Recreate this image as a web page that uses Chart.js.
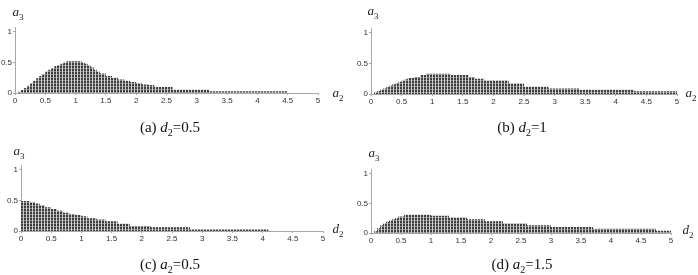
<!DOCTYPE html>
<html><head><meta charset="utf-8">
<script src="https://cdn.jsdelivr.net/npm/chart.js@4"></script>
<style>
body{margin:0;background:#fff;width:698px;height:275px;position:relative;overflow:hidden}
.p{position:absolute}
.lbl{position:absolute;font-family:"Liberation Serif","Times New Roman",serif;font-style:italic;font-size:13px;color:#222;transform:translate(-50%,-50%);white-space:nowrap}
.lbl sub{font-style:normal;font-size:9px}
.cap{position:absolute;font-family:"Liberation Serif","Times New Roman",serif;font-size:15px;color:#111;transform:translate(-50%,-50%);white-space:nowrap}
.cap sub{font-size:10px}
</style></head><body>
<div class="p" style="left:0;top:0;width:349px;height:110px"><canvas id="ca"></canvas></div>
<div class="p" style="left:349px;top:0;width:349px;height:110px"><canvas id="cb"></canvas></div>
<div class="p" style="left:0;top:137px;width:349px;height:112px"><canvas id="cc"></canvas></div>
<div class="p" style="left:349px;top:137px;width:349px;height:112px"><canvas id="cd"></canvas></div>

<span class="lbl" style="left:18px;top:13px">a<sub>3</sub></span>
<span class="lbl" style="left:338px;top:94px">a<sub>2</sub></span>
<span class="cap" style="left:170px;top:128px">(a) <i>d</i><sub>2</sub>=0.5</span>

<span class="lbl" style="left:373px;top:12px">a<sub>3</sub></span>
<span class="lbl" style="left:691px;top:94px">a<sub>2</sub></span>
<span class="cap" style="left:522px;top:128px">(b) <i>d</i><sub>2</sub>=1</span>

<span class="lbl" style="left:19px;top:152px">a<sub>3</sub></span>
<span class="lbl" style="left:338px;top:230px">d<sub>2</sub></span>
<span class="cap" style="left:170px;top:265px">(c) <i>a</i><sub>2</sub>=0.5</span>

<span class="lbl" style="left:374px;top:154px">a<sub>3</sub></span>
<span class="lbl" style="left:688px;top:231px">d<sub>2</sub></span>
<span class="cap" style="left:522px;top:265px">(d) <i>a</i><sub>2</sub>=1.5</span>

<script>
// x tick labels and y tick labels
const xTicks = [0,0.5,1,1.5,2,2.5,3,3.5,4,4.5,5];
const yTicks = [0,0.5,1];

// (a) d2=0.5 : step starts (a2) and a3 heights; last entry ends the region
const aX = [0.05,0.1,0.15,0.2,0.25,0.3,0.35,0.4,0.45,0.5,0.55,0.6,0.65,0.7,0.75,0.8,0.85,1.1,1.15,1.2,1.25,1.3,1.35,1.4,1.5,1.6,1.7,1.8,1.9,2.0,2.1,2.2,2.3,2.6,3.2,4.5];
const aY = [0.02,0.05,0.08,0.12,0.16,0.20,0.24,0.28,0.31,0.35,0.38,0.41,0.44,0.46,0.48,0.50,0.52,0.50,0.48,0.45,0.42,0.38,0.35,0.32,0.28,0.25,0.22,0.20,0.18,0.16,0.14,0.13,0.10,0.055,0.03,0];

// (b) d2=1
const bX = [0.05,0.1,0.15,0.2,0.25,0.3,0.35,0.4,0.45,0.5,0.55,0.6,0.7,0.8,0.9,1.3,1.6,1.7,1.85,2.25,2.5,2.9,3.4,4.3,5.0];
const bY = [0.03,0.05,0.07,0.09,0.12,0.14,0.16,0.18,0.20,0.22,0.24,0.26,0.28,0.31,0.33,0.31,0.28,0.25,0.22,0.17,0.12,0.09,0.07,0.045,0];

// (c) a2=0.5 (x is d2)
const cX = [0,0.15,0.23,0.31,0.4,0.5,0.6,0.7,0.8,0.9,1.0,1.1,1.25,1.4,1.6,1.8,2.15,2.8,4.1];
const cY = [0.49,0.47,0.45,0.42,0.39,0.36,0.33,0.30,0.28,0.26,0.24,0.21,0.19,0.16,0.12,0.08,0.06,0.03,0];

// (d) a2=1.5 (x is d2)
const dX = [0.05,0.1,0.15,0.2,0.25,0.3,0.35,0.4,0.45,0.55,1.0,1.3,1.6,1.9,2.2,2.6,3.0,3.7,4.75,5.0];
const dY = [0.03,0.08,0.13,0.16,0.19,0.21,0.23,0.25,0.28,0.31,0.29,0.26,0.23,0.20,0.16,0.13,0.10,0.07,0.04,0];

function makePattern(){
  const c = document.createElement('canvas'); c.width = 3; c.height = 3;
  const g = c.getContext('2d');
  g.fillStyle = '#3e3e3e'; g.fillRect(0,0,3,3);
  g.fillStyle = '#8c8c8c'; g.fillRect(0,2,3,1);
  g.fillStyle = '#d0d0d0'; g.fillRect(2,0,1,3);
  return g.createPattern(c,'repeat');
}
const pattern = makePattern();

function build(id, xs, ys, area, W, H){
  const pts = [{x: xs[0], y: 0}];
  for (let i = 0; i < xs.length; i++) pts.push({x: xs[i], y: ys[i]});
  const tickFont = {family: 'Liberation Sans, Arial, sans-serif', size: 8};
  new Chart(document.getElementById(id), {
    type: 'line',
    data: {datasets: [{data: pts, stepped: true, fill: 'origin', backgroundColor: pattern, borderWidth: 0, pointRadius: 0}]},
    options: {
      responsive: true, maintainAspectRatio: false, animation: false,
      plugins: {legend: {display: false}, tooltip: {enabled: false}},
      layout: {padding: {left: 0, top: area.top, right: W - area.right, bottom: 0}},
      scales: {
        x: {type: 'linear', min: 0, max: 5,
          afterBuildTicks: s => { s.ticks = xTicks.map(v => ({value: v})); },
          afterFit: s => { s.height = H - area.bottom; },
          border: {display: true, color: '#a8a8a8', width: 1},
          grid: {drawOnChartArea: false, drawTicks: true, tickLength: 2, color: '#a8a8a8'},
          ticks: {font: tickFont, color: '#333', padding: 1, maxRotation: 0, autoSkip: false, callback: v => String(v)}
        },
        y: {type: 'linear', min: 0, max: area.ymax,
          afterBuildTicks: s => { s.ticks = yTicks.map(v => ({value: v})); },
          afterFit: s => { s.width = area.left; },
          border: {display: true, color: '#a8a8a8', width: 1},
          grid: {drawOnChartArea: false, drawTicks: true, tickLength: 2, color: '#a8a8a8'},
          ticks: {font: tickFont, color: '#333', padding: 1, callback: v => String(v)}
        }
      }
    }
  });
}

build('ca', aX, aY, {left: 15, right: 318, top: 27, bottom: 93, ymax: 1.08}, 349, 110);
build('cb', bX, bY, {left: 22, right: 328, top: 28, bottom: 94, ymax: 1.08}, 349, 110);
build('cc', cX, cY, {left: 21, right: 323, top: 28, bottom: 94, ymax: 1.08}, 349, 112);
build('cd', dX, dY, {left: 22, right: 322, top: 32, bottom: 96, ymax: 1.08}, 349, 112);
</script>
</body></html>
